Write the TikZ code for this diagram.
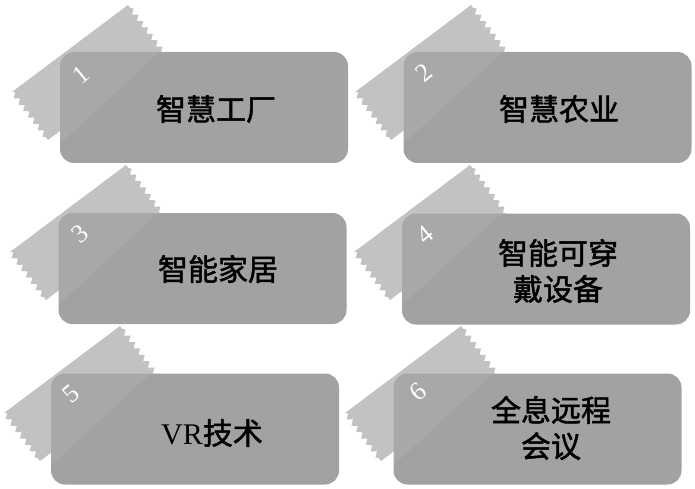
\documentclass[tikz,border=0pt]{standalone}
\usepackage{fontspec}
\setmainfont{Liberation Serif}
\newfontfamily\cjk[FakeBold=1.6]{Noto Sans CJK SC}
\usetikzlibrary{decorations.pathmorphing}
\definecolor{boxgray}{HTML}{A2A2A2}
\definecolor{taggray}{HTML}{C2C2C2}
\tikzset{
  box/.style={fill=boxgray, rounded corners=14pt, inner sep=0pt, minimum width=288pt, minimum height=111pt},
  num/.style={text=white, rotate=40, font=\fontsize{26}{26}\selectfont, inner sep=0pt},
  boxtext/.style={font=\cjk\fontsize{30}{36}\selectfont, align=center, inner sep=0pt},
  saw/.style={decoration={zigzag, segment length=8pt, amplitude=2.5pt}},
  tagfill/.style={fill=taggray}
}
\newcommand\drawribbon[2]{%
  \fill[tagfill, saw] (#1+68,#2-47) -- (#1-48,#2+40) decorate{-- (#1-12,#2+88)} -- (#1+104,#2+1) decorate{-- (#1+68,#2-47)} -- cycle;
}
\newcommand\boxhl[1]{%
  \begin{scope}
    \clip[rounded corners=14pt] (#1.north west) rectangle (#1.south east);
    \fill[white, opacity=0.07] (#1.north west) -- ++(100,0) -- ++(-100,92) -- cycle;
  \end{scope}
}
\begin{document}
\begin{tikzpicture}[x=1pt,y=-1pt]
\useasboundingbox[fill=white] (0,0) rectangle (695,489);
% ribbons
\drawribbon{60}{52}
\drawribbon{403}{52}
\drawribbon{58}{212}
\drawribbon{402}{212}
\drawribbon{52}{373}
\drawribbon{393}{373}
% boxes
\node[box] (b1) at (204,107.5) {};
\node[box] (b2) at (547.5,107.5) {};
\node[box] (b3) at (202.5,268.5) {};
\node[box] (b4) at (546,269) {};
\node[box] (b5) at (195,429) {};
\node[box] (b6) at (537.5,429) {};
\boxhl{b1}\boxhl{b2}\boxhl{b3}\boxhl{b4}\boxhl{b5}\boxhl{b6}
% numbers
\node[num] (n1) at (81,75) {1};
\node[num] (n2) at (424,73) {2};
\node[num] (n3) at (80,234) {3};
\node[num] (n4) at (425,235) {4};
\node[num] (n5) at (71,394) {5};
\node[num] (n6) at (418,392) {6};
% texts
\node[boxtext] (t1) at (216,109) {智慧工厂};
\node[boxtext] (t2) at (559,109) {智慧农业};
\node[boxtext] (t3) at (218,269) {智能家居};
\node[boxtext] (t4) at (558,271) {智能可穿\\戴设备};
\node[boxtext] (t5) at (212,433) {{\rmfamily VR}技术};
\node[boxtext] (t6) at (551,428) {全息远程\\会议};
\end{tikzpicture}
\end{document}
